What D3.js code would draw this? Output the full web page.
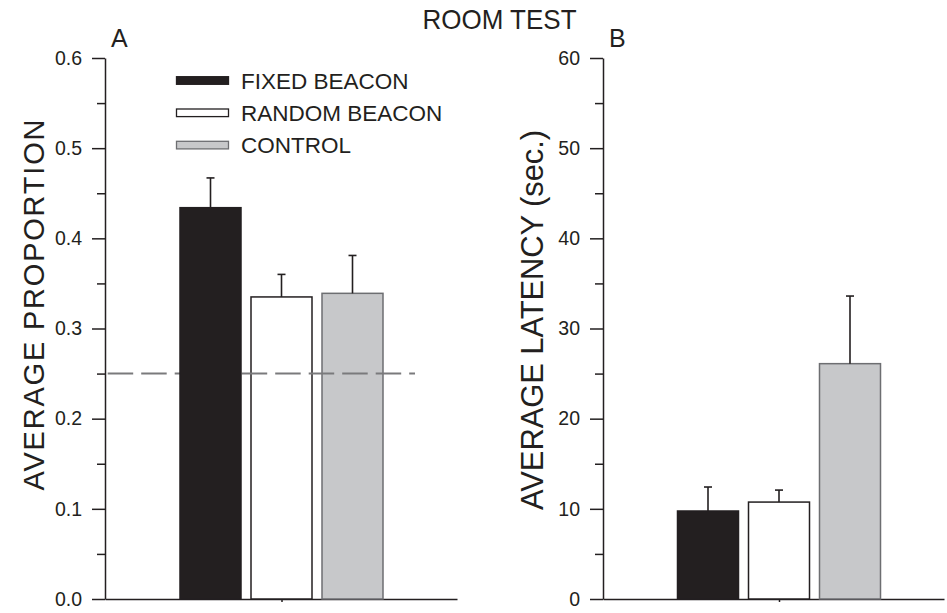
<!DOCTYPE html>
<html>
<head>
<meta charset="utf-8">
<script src="https://cdn.jsdelivr.net/npm/d3@7/dist/d3.min.js"></script>
<style>
  html, body { margin: 0; padding: 0; background: #ffffff; }
  svg { display: block; }
  text { font-family: "Liberation Sans", Arial, Helvetica, sans-serif; fill: #231f20; }
</style>
</head>
<body>
<svg id="chart" width="947" height="613"></svg>
<script>
// ---- data ----
const categories = ["ROOM TEST"];
const groups = ["FIXED BEACON", "RANDOM BEACON", "CONTROL"];
const proportionMeans = [0.434, 0.335, 0.339];
const proportionErrors = [0.033, 0.025, 0.042];
const latencyMeans = [9.76, 10.75, 26.1];
const latencyErrors = [2.66, 1.33, 7.5];
const chanceLevel = 0.25;
const proportionTicks = [0, 0.1, 0.2, 0.3, 0.4, 0.5, 0.6];
const proportionMinorTicks = [0.05, 0.15, 0.25, 0.35, 0.45, 0.55];
const latencyTicks = [0, 10, 20, 30, 40, 50, 60];
const latencyMinorTicks = [5, 15, 25, 35, 45, 55];

// ---- styles ----
const ink = "#231f20";
const fills = { "FIXED BEACON": "#231f20", "RANDOM BEACON": "#ffffff", "CONTROL": "#c7c8ca" };
const strokes = { "FIXED BEACON": "#231f20", "RANDOM BEACON": "#231f20", "CONTROL": "#6d6e71" };

const svg = d3.select("#chart");
const yTop = 58, yBottom = 599;

function drawPanel(opt) {
  const g = svg.append("g");
  const y = d3.scaleLinear().domain(opt.domain).range([yBottom, yTop]);
  const xGroup = d3.scalePoint().domain(categories).range([opt.left, opt.right]).align(opt.align);
  const c = xGroup(categories[0]);
  const xBar = d3.scaleBand().domain(groups).range([c - 101.5, c + 101.5]).paddingInner(10 / 71);

  // minor ticks
  g.append("g")
    .attr("transform", `translate(${opt.left},0)`)
    .call(d3.axisLeft(y).tickValues(opt.minor).tickSize(8).tickFormat(""))
    .call(s => s.select(".domain").remove());

  // major ticks + labels
  const yAxis = g.append("g")
    .attr("transform", `translate(${opt.left},0)`)
    .call(d3.axisLeft(y).tickValues(opt.ticks).tickSize(13).tickSizeOuter(0).tickPadding(10).tickFormat(opt.format));
  yAxis.selectAll("text").style("font-size", "19.5px").attr("fill", ink);

  // x axis with a single centre tick
  g.append("g")
    .attr("transform", `translate(0,${yBottom})`)
    .call(d3.axisBottom(xGroup).tickSize(3).tickSizeOuter(0).tickFormat(""));

  g.selectAll(".domain, .tick line").attr("stroke", ink).attr("stroke-width", 1.5);

  // bars
  const bars = g.append("g");
  bars.selectAll("rect").data(groups).join("rect")
    .attr("x", d => xBar(d))
    .attr("width", xBar.bandwidth())
    .attr("y", (d, i) => y(opt.means[i]))
    .attr("height", (d, i) => y(0) - y(opt.means[i]))
    .attr("fill", d => fills[d])
    .attr("stroke", d => strokes[d])
    .attr("stroke-width", 1.5);

  // error bars (upper only)
  const eb = g.append("g").attr("stroke", ink).attr("stroke-width", 1.6);
  groups.forEach((d, i) => {
    const cx = xBar(d) + xBar.bandwidth() / 2;
    const top = y(opt.means[i] + opt.errors[i]);
    eb.append("line").attr("x1", cx).attr("x2", cx).attr("y1", y(opt.means[i])).attr("y2", top);
    eb.append("line").attr("x1", cx - 4).attr("x2", cx + 4).attr("y1", top).attr("y2", top);
  });

  // y axis title
  g.append("text")
    .attr("transform", `translate(${opt.titleX},${opt.titleY}) rotate(-90)`)
    .attr("text-anchor", "middle")
    .attr("textLength", opt.titleLength)
    .attr("lengthAdjust", "spacing")
    .style("font-size", opt.titleSize + "px")
    .text(opt.title);

  // panel letter
  g.append("text")
    .attr("x", opt.left + 6).attr("y", 46.5)
    .style("font-size", "25px")
    .text(opt.letter);

  return { g, y, xBar, bars };
}

const panelA = drawPanel({
  left: 105, right: 457, align: (281.5 - 105) / (457 - 105),
  domain: [0, 0.6], ticks: proportionTicks, minor: proportionMinorTicks, format: d3.format(".1f"),
  means: proportionMeans, errors: proportionErrors,
  title: "AVERAGE PROPORTION", titleX: 44, titleY: 305, titleLength: 371, titleSize: 29,
  letter: "A"
});

// chance level reference line
panelA.g.append("line")
  .attr("x1", 107.7).attr("x2", 415)
  .attr("y1", panelA.y(chanceLevel)).attr("y2", panelA.y(chanceLevel))
  .attr("stroke", "#7a7a7c").attr("stroke-width", 2)
  .attr("stroke-dasharray", "25.5,8");
// the solid bar stays in front of the reference line
const solidBar = panelA.bars.selectAll("rect").filter(d => d === "FIXED BEACON").node();
panelA.g.append(() => solidBar);

drawPanel({
  left: 603, right: 944, align: (779 - 603) / (944 - 603),
  domain: [0, 60], ticks: latencyTicks, minor: latencyMinorTicks, format: d3.format("d"),
  means: latencyMeans, errors: latencyErrors,
  title: "AVERAGE LATENCY (sec.)", titleX: 543, titleY: 320, titleLength: 380, titleSize: 31,
  letter: "B"
});

// legend
const legend = svg.append("g");
groups.forEach((d, i) => {
  const cy = 80.5 + i * 32.3;
  legend.append("rect")
    .attr("x", 176.5).attr("y", cy - 3.8).attr("width", 52).attr("height", 7.6)
    .attr("fill", fills[d]).attr("stroke", strokes[d]).attr("stroke-width", 1.3);
  legend.append("text")
    .attr("x", 241).attr("y", cy + 8)
    .style("font-size", "22.5px")
    .text(d);
});

// title
svg.append("text")
  .attr("x", 499.5).attr("y", 29)
  .attr("text-anchor", "middle")
  .attr("textLength", 154)
  .attr("lengthAdjust", "spacingAndGlyphs")
  .style("font-size", "28px")
  .text(categories[0]);
</script>
</body>
</html>
